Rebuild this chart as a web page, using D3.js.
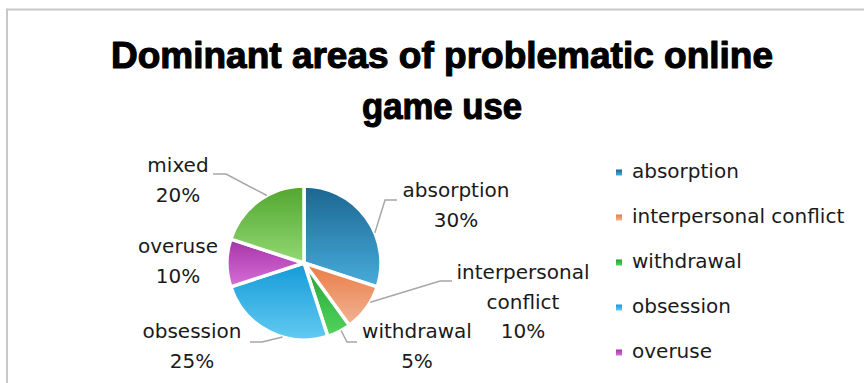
<!DOCTYPE html>
<html>
<head>
<meta charset="utf-8">
<script src="https://cdn.jsdelivr.net/npm/d3@7"></script>
<style>
  html, body { margin: 0; padding: 0; background: #fff; }
  svg { display: block; }
</style>
</head>
<body>
<svg id="chart" width="864" height="383"></svg>
<script>
// Share of each dominant problem area (percent)
const categories = ["absorption", "interpersonal conflict", "withdrawal", "obsession", "overuse", "mixed"];
const values = [30, 10, 5, 25, 10, 20];
// Multi-line slice labels
const labelLines = [
  ["absorption", "30%"],
  ["interpersonal", "conflict", "10%"],
  ["withdrawal", "5%"],
  ["obsession", "25%"],
  ["overuse", "10%"],
  ["mixed", "20%"]
];
// Slice gradient colours: [top, bottom]
const sliceColors = [
  ["#1b6690", "#48acdc"],
  ["#e97c45", "#f2b394"],
  ["#25a032", "#52d45e"],
  ["#159ad8", "#62cbf2"],
  ["#a434a6", "#d96ed8"],
  ["#52a630", "#92d872"]
];
const legendItems = categories.slice(0, 5);
const titleLines = ["Dominant areas of problematic online", "game use"];

const svg = d3.select("#chart");
const W = 864, H = 383;
const cx = 304, cy = 263, R = 77;
const textColor = "#1a1a1a";
const labelFont = "'DejaVu Sans', Verdana, sans-serif";

// Outer frame (cut off at right and bottom)
svg.append("rect")
  .attr("x", 7).attr("y", 9.5)
  .attr("width", W).attr("height", H)
  .attr("fill", "none")
  .attr("stroke", "#c8c8c8")
  .attr("stroke-width", 2);

// Title
const titleWidths = [662, 160];
const titleBaselines = [68, 119];
svg.append("g").selectAll("text")
  .data(titleLines)
  .join("text")
  .attr("x", 442)
  .attr("y", (d, i) => titleBaselines[i])
  .attr("text-anchor", "middle")
  .attr("font-family", "'Liberation Sans', Arial, sans-serif")
  .attr("font-weight", "bold")
  .attr("font-size", 36)
  .attr("textLength", (d, i) => titleWidths[i])
  .attr("lengthAdjust", "spacingAndGlyphs")
  .attr("fill", "#000")
  .attr("stroke", "#000")
  .attr("stroke-width", 1.1)
  .attr("stroke-linejoin", "round")
  .text(d => d);

// Gradients
const defs = svg.append("defs");
sliceColors.forEach((c, i) => {
  const g = defs.append("linearGradient")
    .attr("id", "grad" + i)
    .attr("x1", 0).attr("y1", 0).attr("x2", 0).attr("y2", 1);
  g.append("stop").attr("offset", "0%").attr("stop-color", c[0]);
  g.append("stop").attr("offset", "100%").attr("stop-color", c[1]);
});

// Pie
const pie = d3.pie().sort(null).value(d => d)(values);
const arc = d3.arc().innerRadius(0).outerRadius(R);

const pieG = svg.append("g").attr("transform", `translate(${cx},${cy})`);
pieG.selectAll("path")
  .data(pie)
  .join("path")
  .attr("d", arc)
  .attr("fill", (d, i) => `url(#grad${i})`)
  .attr("stroke", "#fff")
  .attr("stroke-width", 3.5)
  .attr("stroke-linejoin", "round");

// Label placement relative to pie centre: [dx of text centre, first baseline dy]
const labelPos = [
  [152, -66],
  [219, 16],
  [113, 75],
  [-112, 75],
  [-126, -10],
  [-126, -91]
];
const lineHeight = 29.5;

const labelsG = svg.append("g");
pie.forEach((d, i) => {
  const [dx, dy] = labelPos[i];
  const t = labelsG.append("text")
    .attr("text-anchor", "middle")
    .attr("font-family", labelFont)
    .attr("font-size", 20)
    .attr("fill", textColor);
  labelLines[i].forEach((line, j) => {
    t.append("tspan")
      .attr("x", cx + dx)
      .attr("y", cy + dy + j * lineHeight)
      .text(line);
  });
});

// Leader lines: start on the slice's rim, bend, then run to the label
function rimPoint(d, frac) {
  const a = d.startAngle + (d.endAngle - d.startAngle) * frac;
  return [cx + Math.sin(a) * R, cy - Math.cos(a) * R];
}
const leaders = [
  { i: 0, frac: 0.62, bend: [385, 200], end: [397, 200] },
  { i: 1, frac: 0.35, bend: [440, 281], end: [452, 281] },
  { i: 2, frac: 0.4, bend: [347, 342], end: [357, 342] },
  { i: 3, frac: 0.38, bend: [262, 342], end: [250, 342] },
  { i: 5, frac: 0.6, bend: [226, 174], end: [213, 174] }
];
svg.append("g").selectAll("polyline")
  .data(leaders)
  .join("polyline")
  .attr("points", l => {
    const p = rimPoint(pie[l.i], l.frac);
    return [p, l.bend, l.end].map(q => q.join(",")).join(" ");
  })
  .attr("fill", "none")
  .attr("stroke", "#a6a6a6")
  .attr("stroke-width", 1.5);

// Legend
const legendY = d3.scalePoint().domain(legendItems).range([178, 358]);
const legend = svg.append("g");
legendItems.forEach((name, i) => {
  const y = legendY(name);
  legend.append("rect")
    .attr("x", 616).attr("y", y - 8.5)
    .attr("width", 6).attr("height", 6)
    .attr("fill", `url(#grad${i})`);
  legend.append("text")
    .attr("x", 632).attr("y", y)
    .attr("font-family", labelFont)
    .attr("font-size", 20)
    .attr("fill", textColor)
    .text(name);
});
</script>
</body>
</html>
